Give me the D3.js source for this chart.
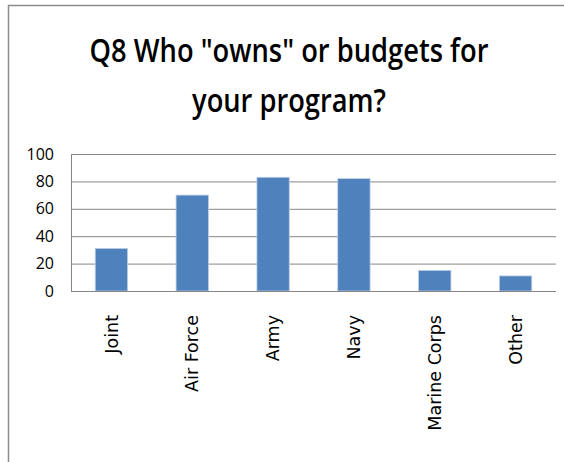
<!DOCTYPE html>
<html>
<head>
<meta charset="utf-8">
<script src="https://cdn.jsdelivr.net/npm/d3@7"></script>
<style>
  body { margin: 0; background: #fff; }
</style>
</head>
<body>
<script>
// chart data
var categories = ["Joint", "Air Force", "Army", "Navy", "Marine Corps", "Other"];
var values = [31, 70, 83, 82, 15, 11];
var yTicks = [0, 20, 40, 60, 80, 100];
var titleLines = ["Q8 Who \"owns\" or budgets for", "your program?"];
var titleWidths = [399, 194];

var width = 564, height = 462;
var plot = {left: 71, right: 556, top: 154, bottom: 291};

var svg = d3.select("body").append("svg")
    .attr("width", width)
    .attr("height", height);

// outer frame (cut off on the right and bottom)
svg.append("path")
    .attr("d", "M 8.5 " + height + " L 8.5 5.5 L " + width + " 5.5")
    .attr("fill", "none")
    .attr("stroke", "#8c8c8c")
    .attr("stroke-width", 1.5);

// title: narrow it horizontally so it looks like the Calibri original
var title = svg.selectAll("text.title")
    .data(titleLines)
  .enter().append("text")
    .attr("class", "title")
    .attr("text-anchor", "middle")
    .style("font-family", "'Open Sans', sans-serif")
    .style("font-weight", "600")
    .style("font-size", "33px")
    .style("fill", "#000")
    .text(function(d) { return d; });

title.attr("transform", function(d, i) {
  var sx = titleWidths[i] / this.getComputedTextLength();
  return "translate(289," + (62 + i * 50) + ") scale(" + sx + ",1)";
});

var x = d3.scaleBand()
    .domain(categories)
    .range([plot.left, plot.right])
    .paddingInner(0.6)
    .paddingOuter(0.3);

var y = d3.scaleLinear()
    .domain([0, 100])
    .range([plot.bottom, plot.top]);

// gridlines + y labels
var yAxis = svg.append("g")
    .attr("transform", "translate(" + plot.left + ",0)")
    .call(d3.axisLeft(y).tickValues(yTicks)
      .tickSize(-(plot.right - plot.left))
      .tickPadding(17));

yAxis.select(".domain").attr("stroke", "#868686");
yAxis.selectAll(".tick line").attr("stroke", "#868686").attr("stroke-width", 1);
yAxis.selectAll(".tick text")
    .style("font-family", "'Open Sans', sans-serif")
    .style("font-size", "16px")
    .attr("fill", "#000");

// bars
svg.selectAll("rect.bar")
    .data(values)
  .enter().append("rect")
    .attr("class", "bar")
    .attr("x", function(d, i) { return x(categories[i]); })
    .attr("y", function(d) { return y(d); })
    .attr("width", x.bandwidth())
    .attr("height", function(d) { return y(0) - y(d); })
    .attr("fill", "#4f81bd")
    .attr("stroke", "#b9cde5")
    .attr("stroke-width", 0.8);

// x axis line
svg.append("line")
    .attr("x1", plot.left).attr("x2", plot.right)
    .attr("y1", y(0) + 0.5).attr("y2", y(0) + 0.5)
    .attr("stroke", "#868686");

// category labels, rotated
svg.selectAll("text.cat")
    .data(categories)
  .enter().append("text")
    .attr("class", "cat")
    .attr("transform", function(d) {
      return "translate(" + (x(d) + x.bandwidth() / 2) + "," + (plot.bottom + 24) + ") rotate(-90)";
    })
    .attr("dy", "0.35em")
    .attr("text-anchor", "end")
    .style("font-family", "'DejaVu Sans', sans-serif")
    .style("font-size", "17.5px")
    .style("fill", "#000")
    .text(function(d) { return d; });
</script>
</body>
</html>
